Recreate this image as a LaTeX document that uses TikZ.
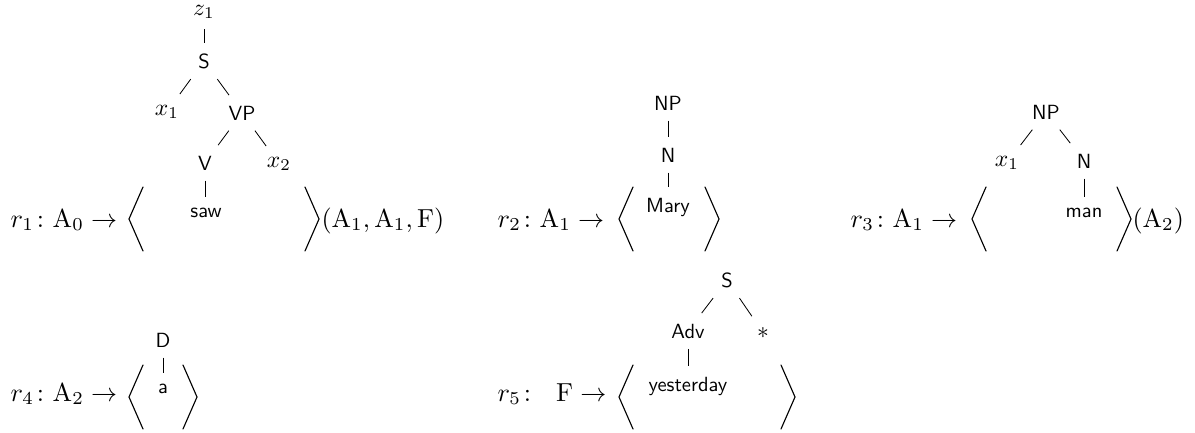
\documentclass[tikz,border=0pt]{standalone}
\usepackage{amsmath}
\begin{document}
\begin{tikzpicture}[x=0.4878pt,y=-0.4878pt,
  tn/.style={font=\sffamily, inner sep=5pt, anchor=base},
  tm/.style={tn, scale=1.15, transform shape, inner sep=4.4pt},
  ml/.style={inner sep=0pt, scale=1.27, transform shape},
  edge/.style={line width=0.4pt},
  brk/.style={line width=0.55pt, line join=miter, line cap=round}]
\useasboundingbox (0,0) rectangle (1195,432);

% ---------- r1 ----------
\node[ml, anchor=base west] (r1) at (10,227) {$r_1\colon \mathrm{A}_0 \rightarrow$};
\draw[brk] (143,187) -- (129,219) -- (143,251);
\draw[brk] (305,187) -- (319,219) -- (305,251);
\node[ml, anchor=base west] (r1args) at (321,227) {$(\mathrm{A}_1, \mathrm{A}_1, \mathrm{F})$};
\node[tm] (z1) at (204,15) {$z_1$};
\node[tn] (S1) at (204,68) {S};
\node[tm] (x11) at (167,115) {$x_1$};
\node[tn] (VP) at (242,120) {VP};
\node[tn] (V) at (205,170) {V};
\node[tm] (x21) at (279,167) {$x_2$};
\node[tn] (saw) at (206,217) {saw};
\draw[edge] (z1.south -| S1.north) -- (S1.north);
\draw[edge] (S1) -- (x11);
\draw[edge] (S1) -- (VP);
\draw[edge] (VP) -- (V);
\draw[edge] (VP) -- (x21);
\draw[edge] (V.south) -- (V.south |- saw.north);

% ---------- r2 ----------
\node[ml, anchor=base west] (r2) at (497,227) {$r_2\colon \mathrm{A}_1 \rightarrow$};
\draw[brk] (633,187) -- (619,219) -- (633,251);
\draw[brk] (705,187) -- (719,219) -- (705,251);
\node[tn] (NP2) at (668,110) {NP};
\node[tn] (N2) at (668,162) {N};
\node[tn] (Mary) at (668,212) {Mary};
\draw[edge] (NP2.south) -- (NP2.south |- N2.north);
\draw[edge] (N2.south) -- (N2.south |- Mary.north);

% ---------- r3 ----------
\node[ml, anchor=base west] (r3) at (850,227) {$r_3\colon \mathrm{A}_1 \rightarrow$};
\draw[brk] (986,187) -- (972,219) -- (986,251);
\draw[brk] (1117,187) -- (1131,219) -- (1117,251);
\node[ml, anchor=base west] (r3args) at (1132,227) {$(\mathrm{A}_2)$};
\node[tn] (NP3) at (1046,119) {NP};
\node[tm] (x13) at (1007,166) {$x_1$};
\node[tn] (N3) at (1084,168) {N};
\node[tn] (man) at (1084,217) {man};
\draw[edge] (NP3) -- (x13);
\draw[edge] (NP3) -- (N3);
\draw[edge] (N3.south) -- (N3.south |- man.north);

% ---------- r4 ----------
\node[ml, anchor=base west] (r4) at (10,401) {$r_4\colon \mathrm{A}_2 \rightarrow$};
\draw[brk] (143,365) -- (129,397) -- (143,429);
\draw[brk] (183,365) -- (197,397) -- (183,429);
\node[tn] (D) at (163,347) {D};
\node[tn] (a) at (163,393) {a};
\draw[edge] (D.south) -- (D.south |- a.north);

% ---------- r5 ----------
\node[ml, anchor=base west] (r5) at (497,401) {$r_5\colon$};
\node[ml, anchor=base east] (F5) at (607,401) {$\mathrm{F} \rightarrow$};
\draw[brk] (633,365) -- (619,397) -- (633,429);
\draw[brk] (781,365) -- (795,397) -- (781,429);
\node[tn] (S5) at (727,287) {S};
\node[tn] (Adv) at (688,338) {Adv};
\node[tm] (ast) at (763,338) {$*$};
\node[tn] (yest) at (688,391) {yesterday};
\draw[edge] (S5) -- (Adv);
\draw[edge] (S5) -- (ast);
\draw[edge] (Adv.south) -- (Adv.south |- yest.north);
\end{tikzpicture}
\end{document}
